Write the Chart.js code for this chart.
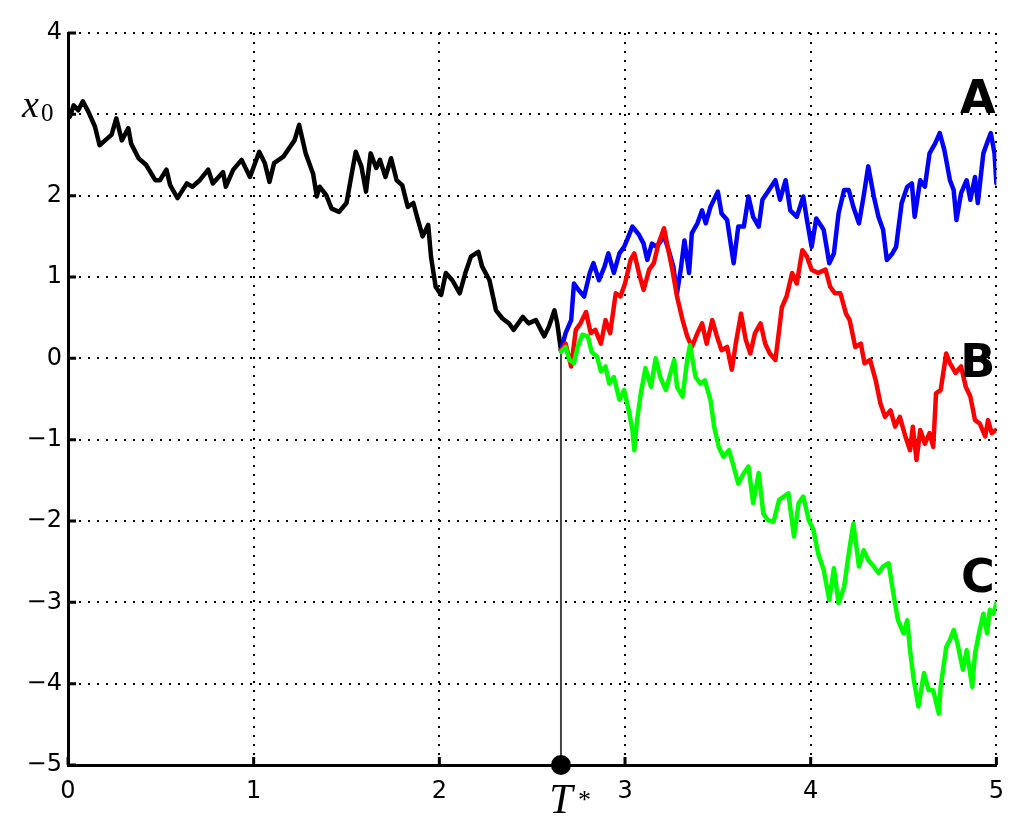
<!DOCTYPE html>
<html>
<head>
<meta charset="utf-8">
<script src="https://cdn.jsdelivr.net/npm/chart.js@4.4.1/dist/chart.umd.min.js"></script>
<style>
  body { margin: 0; background: #fff; }
  #wrap { width: 1016px; height: 830px; }
</style>
</head>
<body>
<div id="wrap"><canvas id="chart" width="1016" height="830"></canvas></div>
<script>
// paths: [time, value]
const blackPath = [
  [0, 3.0], [0.01, 2.97], [0.03, 3.11], [0.055, 3.05], [0.08, 3.16], [0.11, 3.03], [0.145, 2.85],
  [0.17, 2.62], [0.2, 2.68], [0.235, 2.75], [0.26, 2.95], [0.29, 2.68], [0.325, 2.83], [0.34, 2.64],
  [0.38, 2.46], [0.42, 2.38], [0.47, 2.19], [0.495, 2.19], [0.53, 2.32], [0.55, 2.13], [0.59, 1.97],
  [0.64, 2.15], [0.67, 2.11], [0.71, 2.19], [0.755, 2.32], [0.78, 2.15], [0.835, 2.29], [0.85, 2.11],
  [0.89, 2.32], [0.935, 2.44], [0.98, 2.23], [1.03, 2.54], [1.06, 2.40], [1.085, 2.17], [1.11, 2.40],
  [1.16, 2.48], [1.19, 2.58], [1.22, 2.68], [1.245, 2.87], [1.28, 2.52], [1.32, 2.27], [1.34, 1.99],
  [1.355, 2.11], [1.39, 2.01], [1.42, 1.84], [1.46, 1.80], [1.50, 1.91], [1.525, 2.23], [1.55, 2.54],
  [1.58, 2.36], [1.605, 2.05], [1.63, 2.52], [1.66, 2.34], [1.68, 2.44], [1.71, 2.23], [1.74, 2.46],
  [1.77, 2.19], [1.80, 2.13], [1.83, 1.86], [1.86, 1.91], [1.88, 1.74], [1.91, 1.50], [1.94, 1.64],
  [1.955, 1.25], [1.98, 0.88], [2.01, 0.78], [2.035, 1.05], [2.07, 0.96], [2.11, 0.80], [2.14, 1.05],
  [2.17, 1.25], [2.21, 1.31], [2.23, 1.13], [2.27, 0.96], [2.305, 0.59], [2.34, 0.49], [2.375, 0.43],
  [2.40, 0.35], [2.45, 0.51], [2.48, 0.43], [2.52, 0.47], [2.565, 0.27], [2.59, 0.39], [2.62, 0.59],
  [2.635, 0.43], [2.655, 0.10]
];

const pathA = [
  [2.655, 0.10], [2.68, 0.31], [2.71, 0.47], [2.725, 0.92], [2.75, 0.84], [2.78, 0.76], [2.81, 1.05],
  [2.83, 1.17], [2.86, 0.96], [2.89, 1.13], [2.91, 1.29], [2.94, 1.05], [2.97, 1.29], [2.995, 1.37],
  [3.01, 1.45], [3.04, 1.62], [3.075, 1.52], [3.10, 1.41], [3.12, 1.21], [3.145, 1.41], [3.17, 1.37],
  [3.21, 1.50], [3.235, 1.33], [3.26, 1.13], [3.28, 0.80], [3.30, 1.09], [3.32, 1.45], [3.345, 1.05],
  [3.36, 1.54], [3.39, 1.66], [3.415, 1.82], [3.435, 1.66], [3.46, 1.86], [3.50, 2.05], [3.52, 1.78],
  [3.55, 1.70], [3.585, 1.17], [3.61, 1.62], [3.64, 1.62], [3.665, 1.99], [3.69, 1.74], [3.72, 1.62],
  [3.74, 1.95], [3.77, 2.05], [3.81, 2.19], [3.835, 1.95], [3.865, 2.19], [3.89, 1.82], [3.925, 1.74],
  [3.96, 1.99], [3.98, 1.70], [4.005, 1.37], [4.03, 1.72], [4.07, 1.58], [4.10, 1.17], [4.125, 1.29],
  [4.15, 1.78], [4.18, 2.07], [4.205, 2.07], [4.23, 1.86], [4.26, 1.66], [4.285, 1.99], [4.31, 2.36],
  [4.34, 1.99], [4.365, 1.74], [4.39, 1.58], [4.41, 1.21], [4.44, 1.29], [4.46, 1.37], [4.49, 1.91],
  [4.52, 2.11], [4.545, 2.15], [4.56, 1.74], [4.59, 2.19], [4.615, 2.11], [4.64, 2.52], [4.67, 2.64],
  [4.695, 2.77], [4.72, 2.56], [4.75, 2.19], [4.77, 2.07], [4.785, 1.70], [4.81, 2.03], [4.84, 2.19],
  [4.86, 1.95], [4.885, 2.23], [4.90, 1.91], [4.93, 2.52], [4.955, 2.68], [4.97, 2.77], [4.99, 2.52],
  [5.0, 2.15]
];

const pathB = [
  [2.655, 0.10], [2.68, 0.18], [2.71, -0.10], [2.735, 0.35], [2.76, 0.43], [2.79, 0.57], [2.815, 0.31],
  [2.84, 0.35], [2.87, 0.18], [2.895, 0.47], [2.92, 0.31], [2.95, 0.80], [2.975, 0.76], [3.00, 0.92],
  [3.03, 1.21], [3.05, 1.29], [3.075, 1.05], [3.10, 0.84], [3.13, 1.09], [3.155, 1.17], [3.18, 1.41],
  [3.21, 1.60], [3.23, 1.37], [3.255, 1.09], [3.28, 0.76], [3.31, 0.47], [3.335, 0.27], [3.36, 0.14],
  [3.39, 0.31], [3.415, 0.43], [3.44, 0.18], [3.47, 0.47], [3.495, 0.27], [3.52, 0.10], [3.55, 0.14],
  [3.575, -0.14], [3.60, 0.23], [3.625, 0.55], [3.65, 0.23], [3.675, 0.06], [3.70, 0.31], [3.73, 0.43],
  [3.755, 0.18], [3.78, 0.06], [3.81, -0.02], [3.83, 0.35], [3.845, 0.63], [3.87, 0.76], [3.90, 1.05],
  [3.925, 0.92], [3.955, 1.33], [3.98, 1.25], [4.005, 1.09], [4.04, 1.05], [4.08, 1.09], [4.105, 0.88],
  [4.13, 0.80], [4.16, 0.80], [4.19, 0.55], [4.21, 0.47], [4.24, 0.14], [4.27, 0.18], [4.29, -0.06],
  [4.32, -0.02], [4.35, -0.27], [4.375, -0.55], [4.40, -0.72], [4.43, -0.64], [4.455, -0.84],
  [4.48, -0.72], [4.51, -0.96], [4.535, -1.13], [4.55, -0.84], [4.57, -1.25], [4.59, -0.88],
  [4.615, -1.05], [4.64, -0.92], [4.66, -1.09], [4.675, -0.43], [4.70, -0.39], [4.73, 0.06],
  [4.75, -0.06], [4.78, -0.18], [4.81, -0.10], [4.835, -0.35], [4.86, -0.47], [4.885, -0.76],
  [4.91, -0.80], [4.94, -0.96], [4.955, -0.76], [4.975, -0.92], [5.0, -0.88]
];

const pathC = [
  [2.655, 0.08], [2.68, 0.14], [2.70, -0.02], [2.725, -0.06], [2.745, 0.14], [2.77, 0.29], [2.80, 0.27],
  [2.82, 0.08], [2.85, 0.02], [2.87, -0.16], [2.895, -0.10], [2.915, -0.31], [2.94, -0.23], [2.97, -0.51],
  [2.995, -0.39], [3.02, -0.64], [3.04, -0.88], [3.05, -1.13], [3.065, -0.76], [3.085, -0.43],
  [3.11, -0.12], [3.14, -0.35], [3.165, 0.00], [3.19, -0.23], [3.22, -0.39], [3.245, -0.18],
  [3.265, -0.02], [3.28, -0.35], [3.31, -0.47], [3.335, -0.02], [3.35, 0.16], [3.38, -0.23],
  [3.405, -0.31], [3.43, -0.27], [3.46, -0.51], [3.48, -0.84], [3.505, -1.09], [3.53, -1.21],
  [3.56, -1.13], [3.585, -1.33], [3.61, -1.54], [3.64, -1.41], [3.665, -1.33], [3.69, -1.78],
  [3.72, -1.41], [3.745, -1.91], [3.77, -1.99], [3.80, -2.01], [3.83, -1.74], [3.855, -1.70],
  [3.88, -1.66], [3.91, -2.19], [3.935, -1.78], [3.96, -1.70], [3.99, -1.99], [4.015, -2.11],
  [4.04, -2.40], [4.07, -2.60], [4.10, -2.97], [4.125, -2.58], [4.15, -3.01], [4.18, -2.81],
  [4.205, -2.40], [4.23, -2.03], [4.26, -2.56], [4.285, -2.36], [4.31, -2.48], [4.34, -2.56],
  [4.365, -2.64], [4.39, -2.56], [4.42, -2.52], [4.445, -2.89], [4.47, -3.22], [4.50, -3.38],
  [4.52, -3.22], [4.535, -3.59], [4.555, -3.95], [4.58, -4.28], [4.61, -3.87], [4.635, -4.08],
  [4.66, -4.08], [4.69, -4.37], [4.70, -4.04], [4.73, -3.55], [4.75, -3.46], [4.77, -3.34],
  [4.79, -3.50], [4.82, -3.83], [4.84, -3.59], [4.87, -4.04], [4.885, -3.63], [4.91, -3.34],
  [4.93, -3.14], [4.95, -3.38], [4.965, -3.09], [4.985, -3.14], [5.0, -3.01]
];

const tStar = 2.655;
const xTicks = [0, 1, 2, 3, 4, 5];
const yTicks = [-5, -4, -3, -2, -1, 0, 1, 2, 3, 4];
const x0Value = 3;
const endLabels = [
  { text: 'A', t: 4.9, v: 3.16 },
  { text: 'B', t: 4.9, v: -0.08 },
  { text: 'C', t: 4.9, v: -2.72 }
];

const toPoints = arr => arr.map(p => ({ x: p[0], y: p[1] }));

function lineSet(arr, color, order) {
  return {
    data: toPoints(arr),
    borderColor: color,
    borderWidth: 4.5,
    pointRadius: 0,
    tension: 0,
    borderJoinStyle: 'round',
    borderCapStyle: 'round',
    order: order
  };
}

// small ticks pointing into the plot, like matlab
const innerTicks = {
  id: 'innerTicks',
  beforeDatasetsDraw(chart) {
    const { ctx, chartArea: a, scales: { x, y } } = chart;
    ctx.save();
    ctx.strokeStyle = '#000';
    ctx.lineWidth = 3;
    ctx.beginPath();
    xTicks.forEach(v => {
      const px = x.getPixelForValue(v);
      ctx.moveTo(px, a.bottom);
      ctx.lineTo(px, a.bottom - 8);
    });
    yTicks.forEach(v => {
      const py = y.getPixelForValue(v);
      ctx.moveTo(a.left, py);
      ctx.lineTo(a.left + 8, py);
    });
    ctx.stroke();
    ctx.restore();
  }
};

const mathLabels = {
  id: 'mathLabels',
  afterDraw(chart) {
    const { ctx, scales: { x, y } } = chart;
    ctx.save();
    ctx.fillStyle = '#000';

    // x_0 on the y axis
    const py = y.getPixelForValue(x0Value);
    ctx.textAlign = 'left';
    ctx.textBaseline = 'alphabetic';
    ctx.font = 'italic 38px "Liberation Serif"';
    ctx.fillText('x', 22, py + 3);
    ctx.font = '25px "Liberation Serif"';
    ctx.fillText('0', 41, py + 7);

    // T* under the axis
    const px = x.getPixelForValue(tStar);
    ctx.textAlign = 'center';
    ctx.font = 'italic 42px "Liberation Serif"';
    ctx.fillText('T', px, 813);
    ctx.textAlign = 'left';
    ctx.font = '26px "Liberation Serif"';
    ctx.fillText('*', px + 17, 808);

    // A, B, C at the path ends
    ctx.textAlign = 'center';
    ctx.textBaseline = 'middle';
    ctx.font = 'bold 46px "DejaVu Sans"';
    endLabels.forEach(l => {
      ctx.fillText(l.text, x.getPixelForValue(l.t), y.getPixelForValue(l.v));
    });
    ctx.restore();
  }
};

const tickFont = { family: 'DejaVu Sans', size: 24 };

new Chart(document.getElementById('chart'), {
  type: 'line',
  data: {
    datasets: [
      {
        data: [{ x: tStar, y: -5 }],
        showLine: false,
        pointRadius: 10,
        pointBackgroundColor: '#000',
        pointBorderColor: '#000',
        pointBorderWidth: 0,
        clip: false,
        order: 0
      },
      lineSet(pathC, '#00ff00', 1),
      lineSet(pathB, '#ff0000', 2),
      lineSet(pathA, '#0000ff', 3),
      lineSet(blackPath, '#000000', 4),
      {
        data: [{ x: tStar, y: -5 }, { x: tStar, y: 0.1 }],
        borderColor: '#444444',
        borderWidth: 2,
        pointRadius: 0,
        order: 5
      }
    ]
  },
  options: {
    responsive: false,
    animation: false,
    events: [],
    layout: { padding: { top: 33, right: 16, left: 0, bottom: 0 } },
    plugins: {
      legend: { display: false },
      tooltip: { enabled: false }
    },
    scales: {
      x: {
        type: 'linear',
        min: 0,
        max: 5,
        afterFit: s => { s.height = 65; },
        afterBuildTicks: s => { s.ticks = xTicks.map(v => ({ value: v })); },
        ticks: { color: '#000', font: tickFont, padding: 12, maxRotation: 0 },
        grid: { color: '#000', lineWidth: 2, drawTicks: false },
        border: { display: true, color: '#000', width: 3, dash: [2, 7] }
      },
      y: {
        type: 'linear',
        min: -5,
        max: 4,
        afterFit: s => { s.width = 68; },
        afterBuildTicks: s => { s.ticks = yTicks.map(v => ({ value: v })); },
        ticks: {
          color: '#000',
          font: tickFont,
          padding: 6,
          callback: v => (v === x0Value ? '' : String(v).replace('-', '\u2212'))
        },
        grid: { color: '#000', lineWidth: 2, drawTicks: false },
        border: { display: true, color: '#000', width: 3, dash: [2, 7] }
      }
    }
  },
  plugins: [innerTicks, mathLabels]
});
</script>
</body>
</html>
